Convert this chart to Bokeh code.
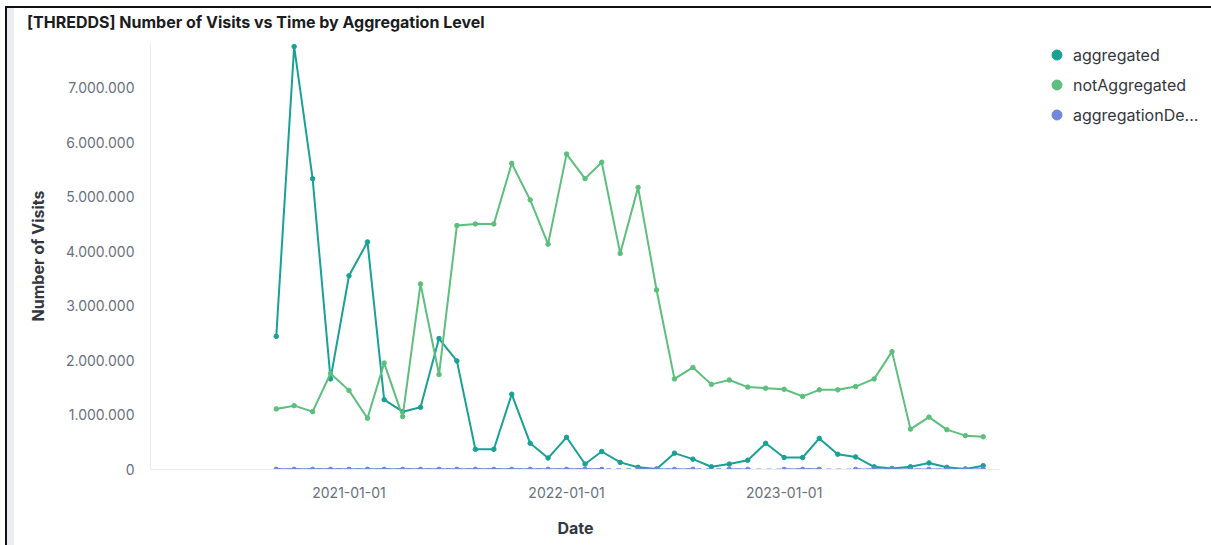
from datetime import datetime, timedelta

from bokeh.plotting import figure
from bokeh.layouts import column, row
from bokeh.models import (Range1d, FixedTicker, DatetimeTickFormatter, CustomJSTickFormatter,
                          Legend, LegendItem, ColumnDataSource, Div)
from bokeh.embed import file_html
from bokeh.resources import INLINE

# ---------------- data ----------------
chart_title = "[THREDDS] Number of Visits vs Time by Aggregation Level"

months = [
    "2020-09-01", "2020-10-01", "2020-11-01", "2020-12-01",
    "2021-01-01", "2021-02-01", "2021-03-01", "2021-04-01", "2021-05-01", "2021-06-01",
    "2021-07-01", "2021-08-01", "2021-09-01", "2021-10-01", "2021-11-01", "2021-12-01",
    "2022-01-01", "2022-02-01", "2022-03-01", "2022-04-01", "2022-05-01", "2022-06-01",
    "2022-07-01", "2022-08-01", "2022-09-01", "2022-10-01", "2022-11-01", "2022-12-01",
    "2023-01-01", "2023-02-01", "2023-03-01", "2023-04-01", "2023-05-01", "2023-06-01",
    "2023-07-01", "2023-08-01", "2023-09-01", "2023-10-01", "2023-11-01", "2023-12-01",
]

aggregated = [
    2440000, 7750000, 5330000, 1660000, 3550000, 4170000, 1280000, 1060000, 1140000, 2400000,
    1990000, 370000, 370000, 1380000, 480000, 210000, 590000, 100000, 330000, 130000,
    40000, 10000, 300000, 190000, 50000, 100000, 170000, 480000, 220000, 220000,
    570000, 280000, 230000, 50000, 20000, 50000, 120000, 40000, 10000, 70000,
]

not_aggregated = [
    1110000, 1170000, 1060000, 1760000, 1450000, 940000, 1950000, 970000, 3400000, 1740000,
    4470000, 4500000, 4500000, 5610000, 4940000, 4130000, 5780000, 5330000, 5630000, 3960000,
    5170000, 3290000, 1660000, 1870000, 1560000, 1640000, 1510000, 1490000, 1470000, 1340000,
    1460000, 1460000, 1520000, 1660000, 2160000, 740000, 960000, 730000, 620000, 600000,
]

aggregation_de = [
    3000, 2500, 2800, 3100, 2600, 2900, 3000, 2700, 2500, 2800,
    3000, 2600, 2400, 2900, 2700, 2500, 2800, 2600, 2400, None,
    2300, 2500, 2200, 2400, None, 2300, 2100, None, 2200, 2400,
    2300, None, 2100, 2000, 2200, 1900, 2100, 2000, 1800, 1900,
]

series_names = ["aggregated", "notAggregated", "aggregationDe..."]
series_colors = ["#1AA196", "#5CBF7C", "#6F87DC"]

x_tick_labels = ["2021-01-01", "2022-01-01", "2023-01-01"]
y_tick_step = 1000000

# ---------------- layout ----------------
dates = [datetime.strptime(m, "%Y-%m-%d") for m in months]
x_start = dates[0] - timedelta(days=211)
x_end = dates[-1] + timedelta(days=29)

TOTAL_W = 1197
TITLE_H = 34
H = 503
LEG_W = 211
W = TOTAL_W - LEG_W
ML, MB = 136, 76

title_div = Div(
    text=('<div style="margin:4px 0 0 13px;font-family:Inter;font-size:16px;font-weight:700;'
          'color:#1a1c21;line-height:20px;white-space:nowrap;">' + chart_title + '</div>'),
    width=TOTAL_W, height=TITLE_H, margin=0, styles={"background-color": "white"})

p = figure(
    width=W, height=H,
    x_axis_type="datetime",
    x_range=Range1d(x_start, x_end),
    y_range=Range1d(0, 7825000),
    output_backend="svg",
    toolbar_location=None,
    min_border_left=ML, min_border_right=0, min_border_top=0, min_border_bottom=MB,
    margin=0,
)

p.outline_line_color = None
p.xgrid.visible = False
p.ygrid.visible = False
p.background_fill_color = "white"
p.border_fill_color = "white"

# axes
p.yaxis.ticker = FixedTicker(ticks=[i * y_tick_step for i in range(8)])
p.yaxis.formatter = CustomJSTickFormatter(
    code="return Math.round(tick).toString().replace(/\\B(?=(\\d{3})+(?!\\d))/g, '.');")
p.xaxis.ticker = FixedTicker(ticks=[datetime.strptime(t, "%Y-%m-%d").timestamp() * 1000
                                    for t in x_tick_labels])
fmt = "%Y-%m-%d"
p.xaxis.formatter = DatetimeTickFormatter(
    milliseconds=fmt, seconds=fmt, minsec=fmt, minutes=fmt, hourmin=fmt, hours=fmt,
    days=fmt, months=fmt, years=fmt)

for ax in (p.xaxis[0], p.yaxis[0]):
    ax.axis_line_color = "#EAECF1"
    ax.axis_line_width = 1
    ax.major_tick_line_color = None
    ax.minor_tick_line_color = None
    ax.major_label_text_font = "Inter"
    ax.major_label_text_font_size = "14px"
    ax.major_label_text_color = "#69707D"
    ax.axis_label_text_font = "Inter"
    ax.axis_label_text_font_size = "16px"
    ax.axis_label_text_font_style = "bold"
    ax.axis_label_text_color = "#343741"

p.yaxis.axis_label = "Number of Visits"
p.yaxis.major_label_standoff = 10
p.yaxis.axis_label_standoff = 15
p.xaxis.axis_label = "Date"
p.xaxis.major_label_standoff = 11
p.xaxis.axis_label_standoff = 17

# series
all_values = [aggregated, not_aggregated, aggregation_de]
for name, vals, col in zip(series_names, all_values, series_colors):
    yv = [float("nan") if v is None else v for v in vals]
    valid_x = [d for d, v in zip(dates, vals) if v is not None]
    valid_y = [v for v in vals if v is not None]
    if any(v is None for v in vals):
        p.line(valid_x, valid_y, line_color=col, line_width=2, line_dash="5 5", line_alpha=0.9)
    src = ColumnDataSource(dict(x=dates, y=yv))
    p.line("x", "y", source=src, line_color=col, line_width=2, line_alpha=1.0)
    p.scatter("x", "y", source=src, size=4.5, fill_color=col, line_color=col)

# legend panel (separate, axis-less figure; its frame starts 44px in)
lf = figure(width=LEG_W, height=H, output_backend="svg", toolbar_location=None,
            x_axis_location=None, y_axis_location=None,
            min_border_left=44, min_border_right=0, min_border_top=0, min_border_bottom=0,
            margin=0, x_range=Range1d(0, 1), y_range=Range1d(0, 1))
lf.outline_line_color = None
lf.xgrid.visible = False
lf.ygrid.visible = False
lf.border_fill_color = "white"
lf.background_fill_color = "white"

legend_items = []
for name, col in zip(series_names, series_colors):
    r = lf.scatter(x=[float("nan")], y=[float("nan")], size=10, fill_color=col, line_color=col)
    legend_items.append(LegendItem(label=name, renderers=[r]))

legend = Legend(items=legend_items, location="top_left", orientation="vertical",
                glyph_width=25, glyph_height=25, spacing=5, padding=0, margin=0,
                label_text_font="Inter", label_text_font_size="16px",
                label_text_color="#343741", label_standoff=4,
                border_line_alpha=0, background_fill_alpha=0)
lf.add_layout(legend, "center")

layout = column(title_div, row(p, lf, spacing=0, margin=0), spacing=0, margin=0,
                styles={"margin-left": "5px", "margin-top": "6px",
                        "border-left": "2px solid #111", "border-top": "2px solid #111",
                        "padding-left": "7px",
                        "background": "linear-gradient(to right, #ECEDF2 0px, #ECEDF2 7px, #ffffff 7px)"})

open("out.html", "w").write(file_html(layout, INLINE))
